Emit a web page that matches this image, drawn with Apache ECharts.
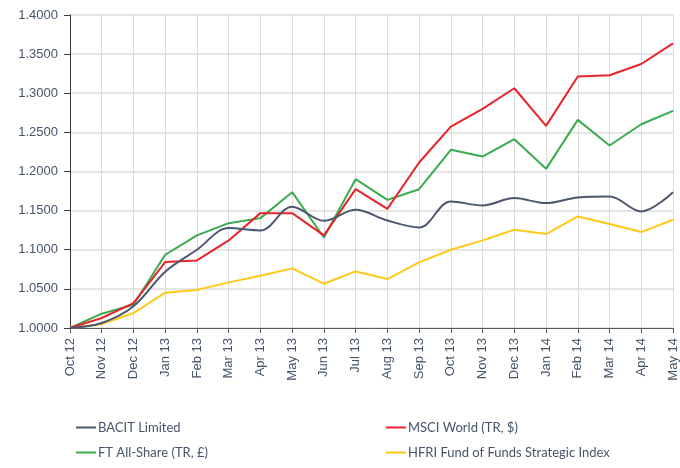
<!DOCTYPE html>
<html>
<head>
<meta charset="utf-8">
<script src="https://cdn.jsdelivr.net/npm/echarts@6/dist/echarts.min.js"></script>
<style>
  html, body { margin: 0; padding: 0; background: #fff; }
  #chart { width: 680px; height: 468px; }
</style>
</head>
<body>
<div id="chart"></div>
<script>
// months on the x axis
const months = ['Oct 12', 'Nov 12', 'Dec 12', 'Jan 13', 'Feb 13', 'Mar 13', 'Apr 13', 'May 13', 'Jun 13', 'Jul 13',
    'Aug 13', 'Sep 13', 'Oct 13', 'Nov 13', 'Dec 13', 'Jan 14', 'Feb 14', 'Mar 14', 'Apr 14', 'May 14'];

const bacit = [1.0000, 1.0064, 1.0277, 1.0720, 1.1000, 1.1277, 1.1247, 1.1550, 1.1370, 1.1510,
    1.1374, 1.1285, 1.1617, 1.1566, 1.1660, 1.1596, 1.1668, 1.1680, 1.1490, 1.1736];
const msci = [1.0000, 1.0128, 1.0319, 1.0843, 1.0864, 1.1119, 1.1468, 1.1468, 1.1183, 1.1774,
    1.1523, 1.2115, 1.2574, 1.2800, 1.3064, 1.2583, 1.3213, 1.3230, 1.3374, 1.3638];
const ftAllShare = [1.0000, 1.0183, 1.0298, 1.0936, 1.1183, 1.1340, 1.1404, 1.1736, 1.1157, 1.1902,
    1.1638, 1.1774, 1.2277, 1.2191, 1.2413, 1.2034, 1.2660, 1.2332, 1.2604, 1.2774];
const hfri = [1.0000, 1.0051, 1.0191, 1.0451, 1.0485, 1.0583, 1.0668, 1.0762, 1.0566, 1.0723,
    1.0626, 1.0838, 1.1000, 1.1120, 1.1255, 1.1200, 1.1426, 1.1328, 1.1226, 1.1383];

const seriesNames = ['BACIT Limited', 'MSCI World (TR, $)', 'FT All-Share (TR, £)', 'HFRI Fund of Funds Strategic Index'];

const chart = echarts.init(document.getElementById('chart'));

const textColor = '#44546a';
const axisFont = 'Liberation Sans';
const legendText = { color: textColor, fontSize: 13, fontFamily: 'Lato' };

function legendBlock(names, left) {
    return {
        orient: 'vertical',
        left: left,
        top: 421,
        itemGap: 12,
        itemWidth: 20,
        itemHeight: 2,
        icon: 'rect',
        padding: 0,
        textStyle: Object.assign({ padding: [0, 0, 0, -3] }, legendText),
        data: names
    };
}

const option = {
    animation: false,
    color: ['#4b566f', '#e8232b', '#3aab4f', '#ffc917'],
    grid: { left: 70, right: 7, top: 15, bottom: 140 },
    legend: [
        legendBlock([seriesNames[0], seriesNames[2]], 76),
        legendBlock([seriesNames[1], seriesNames[3]], 386)
    ],
    xAxis: {
        type: 'category',
        data: months,
        boundaryGap: false,
        axisLine: { lineStyle: { color: '#595959', width: 1 } },
        axisTick: { show: true, length: 5, lineStyle: { color: '#595959' } },
        axisLabel: {
            rotate: 90,
            interval: 0,
            margin: 10,
            color: textColor,
            fontSize: 13,
            fontFamily: axisFont
        },
        splitLine: { show: true, lineStyle: { color: '#dcdcdc' } }
    },
    yAxis: {
        type: 'value',
        min: 1.0,
        max: 1.4,
        interval: 0.05,
        axisLine: { show: true, lineStyle: { color: '#3a3a3a' } },
        axisTick: { show: true, length: 6, lineStyle: { color: '#3a3a3a' } },
        axisLabel: {
            margin: 12,
            color: textColor,
            fontSize: 13,
            fontFamily: axisFont,
            formatter: v => v.toFixed(4)
        },
        splitLine: { show: true, lineStyle: { color: '#dcdcdc', width: 1.5 } }
    },
    series: [
        { name: seriesNames[0], type: 'line', data: bacit, smooth: 0.35, symbol: 'none', lineStyle: { width: 2 }, z: 4 },
        { name: seriesNames[1], type: 'line', data: msci, symbol: 'none', lineStyle: { width: 2 }, z: 3 },
        { name: seriesNames[2], type: 'line', data: ftAllShare, symbol: 'none', lineStyle: { width: 2 }, z: 2 },
        { name: seriesNames[3], type: 'line', data: hfri, symbol: 'none', lineStyle: { width: 2 }, z: 1 }
    ]
};

chart.setOption(option);
</script>
</body>
</html>
